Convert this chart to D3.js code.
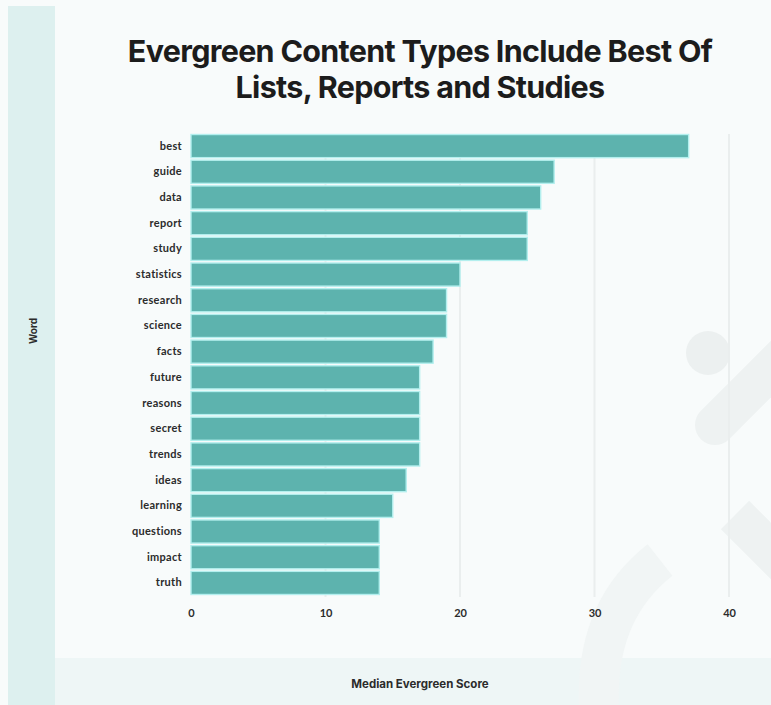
<!DOCTYPE html>
<html>
<head>
<meta charset="utf-8">
<script src="https://cdn.jsdelivr.net/npm/d3@7"></script>
<style>
  html, body { margin: 0; padding: 0; background: #ffffff; }
  svg { display: block; }
</style>
</head>
<body>
<svg id="chart" width="771" height="705"></svg>
<script>
// Words and their median evergreen score
const words = ["best", "guide", "data", "report", "study", "statistics", "research", "science",
  "facts", "future", "reasons", "secret", "trends", "ideas", "learning", "questions", "impact", "truth"];
const scores = [37, 27, 26, 25, 25, 20, 19, 19, 18, 17, 17, 17, 17, 16, 15, 14, 14, 14];
const xTicks = [0, 10, 20, 30, 40];

const titleLines = ["Evergreen Content Types Include Best Of", "Lists, Reports and Studies"];

const W = 771, H = 705;
const svg = d3.select("#chart");

// page background and side / bottom bands
svg.append("rect").attr("width", W).attr("height", H).attr("fill", "#f8fbfb");
svg.append("rect").attr("x", 8).attr("y", 6).attr("width", 47).attr("height", H - 6).attr("fill", "#ddf0ef");
svg.append("rect").attr("x", 55).attr("y", 658).attr("width", W - 55).attr("height", H - 658).attr("fill", "#eef6f6");

// faint decorative mark in the background
const deco = svg.append("g").attr("fill", "none").attr("stroke", "#eef2f2");
deco.append("circle").attr("cx", 708).attr("cy", 353).attr("r", 22).attr("fill", "#ecf0f0").attr("stroke", "none");
deco.append("line").attr("x1", 715).attr("y1", 425).attr("x2", 790).attr("y2", 350)
  .attr("stroke-width", 40).attr("stroke-linecap", "round");
deco.append("line").attr("x1", 735).attr("y1", 515).attr("x2", 800).attr("y2", 580)
  .attr("stroke-width", 40).attr("stroke-linecap", "butt");
deco.append("path").attr("stroke-width", 40).attr("stroke", "#f1f5f5")
  .attr("d", "M 660 560 Q 590 615 600 720");

const x = d3.scaleLinear().domain([0, 40]).range([191, 729]);
const y = d3.scaleBand().domain(words).range([134, 595]).paddingInner(0.1).paddingOuter(0.02);

// vertical grid lines
svg.append("g").selectAll("line").data(xTicks.slice(1)).join("line")
  .attr("x1", d => x(d)).attr("x2", d => x(d))
  .attr("y1", 134).attr("y2", 597)
  .attr("stroke", "#eaeeee").attr("stroke-width", 2);

// bars, outlined in a light cyan so neighbouring bars read as separated
svg.append("g").selectAll("rect").data(words).join("rect")
  .attr("x", x(0))
  .attr("y", d => y(d))
  .attr("width", (d, i) => x(scores[i]) - x(0))
  .attr("height", y.bandwidth())
  .attr("fill", "#5db3ae")
  .attr("stroke", "#b3efee")
  .attr("stroke-width", 1.4);

// category axis
const yAxis = d3.axisLeft(y).tickSize(0).tickPadding(9);
const yg = svg.append("g").attr("transform", `translate(${x(0)},0)`).call(yAxis);
yg.select(".domain").remove();
yg.selectAll("text")
  .attr("font-family", "Lato, 'Open Sans', sans-serif")
  .attr("font-weight", 700).attr("font-size", 11).attr("letter-spacing", 0.3).attr("fill", "#2b2b2b");

// value axis
const xAxis = d3.axisBottom(x).tickValues(xTicks).tickSize(0).tickPadding(9);
const xg = svg.append("g").attr("transform", `translate(0,600)`).call(xAxis);
xg.select(".domain").remove();
xg.selectAll("text")
  .attr("font-family", "Lato, 'Open Sans', sans-serif")
  .attr("font-weight", 700).attr("font-size", 11).attr("fill", "#2b2b2b");

// axis titles
svg.append("text").attr("x", 420).attr("y", 688).attr("text-anchor", "middle")
  .attr("font-family", "Inter, 'Open Sans', sans-serif").attr("font-weight", 700)
  .attr("font-size", 11.5).attr("fill", "#2b2b2b").text("Median Evergreen Score");

svg.append("text").attr("transform", "translate(37,331) rotate(-90)").attr("text-anchor", "middle")
  .attr("font-family", "Inter, 'Open Sans', sans-serif").attr("font-weight", 700)
  .attr("font-size", 10).attr("fill", "#2b2b2b").text("Word");

// chart title
svg.append("g").selectAll("text").data(titleLines).join("text")
  .attr("x", 420).attr("y", (d, i) => 62 + i * 36)
  .attr("text-anchor", "middle")
  .attr("font-family", "Inter, Roboto, sans-serif").attr("font-weight", 700)
  .attr("font-size", 30.5).attr("letter-spacing", -0.7).attr("fill", "#1c1c1c")
  .text(d => d);
</script>
</body>
</html>
